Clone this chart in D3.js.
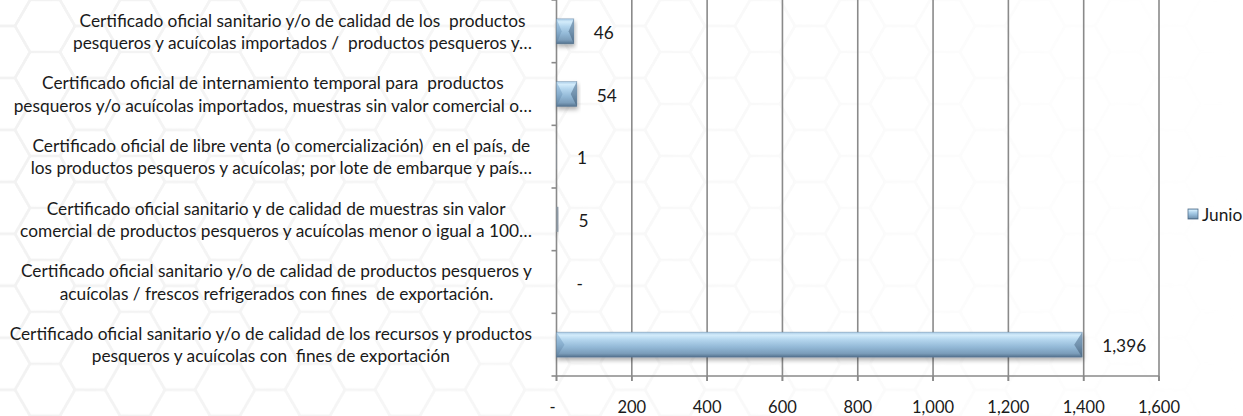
<!DOCTYPE html>
<html>
<head>
<meta charset="utf-8">
<script src="https://cdn.jsdelivr.net/npm/d3@7"></script>
<style>
  html, body { margin: 0; padding: 0; background: #ffffff; }
  svg { display: block; }
  text { font-family: Lato, "Noto Sans", sans-serif; fill: #1a1a1a; }
</style>
</head>
<body>
<svg id="chart" width="1243" height="416"></svg>
<script>
// ---- data ----
const categories = [
  ["Certificado oficial sanitario y/o de calidad de los  productos", "pesqueros y acuícolas importados /  productos pesqueros y…"],
  ["Certificado oficial de internamiento temporal para  productos", "pesqueros y/o acuícolas importados, muestras sin valor comercial o…"],
  ["Certificado oficial de libre venta (o comercialización)  en el país, de", "los productos pesqueros y acuícolas; por lote de embarque y país…"],
  ["Certificado oficial sanitario y de calidad de muestras sin valor", "comercial de productos pesqueros y acuícolas menor o igual a 100…"],
  ["Certificado oficial sanitario y/o de calidad de productos pesqueros y", "acuícolas / frescos refrigerados con fines  de exportación."],
  ["Certificado oficial sanitario y/o de calidad de los recursos y productos", "pesqueros y acuícolas con  fines de exportación"]
];
const values = [46, 54, 1, 5, 0, 1396];
const xTicks = [0, 200, 400, 600, 800, 1000, 1200, 1400, 1600];
const seriesName = "Junio";

// ---- layout ----
const W = 1243, H = 416;
const plot = { left: 556.5, right: 1159, top: 0, bottom: 376 };
const fontSize = 17.3;

const svg = d3.select("#chart");
const defs = svg.append("defs");

// hexagon background pattern (very faint)
const hr = 30, hw = hr * 3, hh = Math.sqrt(3) * hr;
const pat = defs.append("pattern").attr("id", "hex").attr("patternUnits", "userSpaceOnUse")
  .attr("width", hw).attr("height", hh);
function hexPath(cx, cy) {
  const pts = d3.range(6).map(i => [cx + hr * Math.cos(Math.PI / 3 * i), cy + hr * Math.sin(Math.PI / 3 * i)]);
  return "M" + pts.map(p => p.join(",")).join("L") + "Z";
}
[[0, 0], [hw, 0], [0, hh], [hw, hh], [hw / 2, hh / 2]].forEach(([cx, cy]) => {
  pat.append("path").attr("d", hexPath(cx, cy)).attr("fill", "none").attr("stroke", "#f2f2f2").attr("stroke-width", 2.5);
});
const fade = defs.append("linearGradient").attr("id", "fade").attr("x1", 0).attr("x2", 1).attr("y1", 0).attr("y2", 0);
fade.append("stop").attr("offset", 0).attr("stop-color", "#fff").attr("stop-opacity", 1);
fade.append("stop").attr("offset", 0.45).attr("stop-color", "#fff").attr("stop-opacity", 0.6);
fade.append("stop").attr("offset", 1).attr("stop-color", "#fff").attr("stop-opacity", 0);
const mask = defs.append("mask").attr("id", "fadeMask");
mask.append("rect").attr("width", W).attr("height", H).attr("fill", "url(#fade)");
svg.append("rect").attr("width", W).attr("height", H).attr("fill", "url(#hex)").attr("mask", "url(#fadeMask)");

// bar gradients
const g1 = defs.append("linearGradient").attr("id", "barGrad").attr("x1", 0).attr("x2", 0).attr("y1", 0).attr("y2", 1);
[[0, "#a9cbe6"], [0.12, "#d3ecfb"], [0.3, "#b4d6ee"], [0.6, "#92b8d6"], [0.85, "#7b9dba"], [1, "#52708c"]]
  .forEach(([o, c]) => g1.append("stop").attr("offset", o).attr("stop-color", c));
const g2 = defs.append("linearGradient").attr("id", "leftFace").attr("x1", 0).attr("x2", 0).attr("y1", 0).attr("y2", 1);
[[0, "#9cc2e0"], [0.5, "#80a7c8"], [1, "#5c7c99"]].forEach(([o, c]) => g2.append("stop").attr("offset", o).attr("stop-color", c));
const g3 = defs.append("linearGradient").attr("id", "rightFace").attr("x1", 0).attr("x2", 0).attr("y1", 0).attr("y2", 1);
[[0, "#7c9cb8"], [0.5, "#6a8aa6"], [1, "#4a6680"]].forEach(([o, c]) => g3.append("stop").attr("offset", o).attr("stop-color", c));

const shadow = defs.append("filter").attr("id", "shadow").attr("x", "-20%").attr("y", "-30%").attr("width", "140%").attr("height", "180%");
shadow.append("feDropShadow").attr("dx", 1).attr("dy", 3).attr("stdDeviation", 2.2)
  .attr("flood-color", "#000").attr("flood-opacity", 0.3);

// scales
const x = d3.scaleLinear().domain([0, 1600]).range([plot.left, plot.right]);
const y = d3.scaleBand().domain(d3.range(categories.length)).range([plot.top, plot.bottom]).paddingInner(0.6).paddingOuter(0.3);
const yBand = d3.scaleBand().domain(d3.range(categories.length)).range([plot.top, plot.bottom]);

// gridlines
svg.append("g").selectAll("line").data(xTicks.filter(t => t > 0)).join("line")
  .attr("x1", d => x(d)).attr("x2", d => x(d))
  .attr("y1", plot.top).attr("y2", plot.bottom + 5)
  .attr("stroke", "#8a8a8a").attr("stroke-width", 1.6);

// x axis
const xAxisG = svg.append("g").attr("transform", `translate(0,${plot.bottom})`);
xAxisG.append("line").attr("x1", plot.left).attr("x2", plot.right).attr("stroke", "#8a8a8a").attr("stroke-width", 1.6);
xAxisG.selectAll("line.tick").data(xTicks).join("line").attr("class", "tick")
  .attr("x1", d => x(d)).attr("x2", d => x(d)).attr("y1", 0).attr("y2", 5)
  .attr("stroke", "#8a8a8a").attr("stroke-width", 1.6);
xAxisG.selectAll("text").data(xTicks).join("text")
  .attr("x", d => d === 0 ? x(d) - 4 : x(d))
  .attr("y", 30.5).attr("dominant-baseline", "central").attr("text-anchor", "middle")
  .attr("font-size", 16.5)
  .text(d => d === 0 ? "-" : d3.format(",")(d));

// y axis
const yAxisG = svg.append("g");
yAxisG.append("line").attr("x1", plot.left).attr("x2", plot.left).attr("y1", plot.top).attr("y2", plot.bottom + 5)
  .attr("stroke", "#8a8a8a").attr("stroke-width", 1.6);
const yTickPos = d3.range(categories.length + 1).map(i => i === categories.length ? plot.bottom : yBand(i));
yAxisG.selectAll("line.tick").data(yTickPos).join("line").attr("class", "tick")
  .attr("x1", plot.left - 5).attr("x2", plot.left).attr("y1", d => d).attr("y2", d => d)
  .attr("stroke", "#8a8a8a").attr("stroke-width", 1.6);

// category labels (block right-aligned, lines centered in block)
const labelRight = 532, lineGap = 22.6;
categories.forEach((lines, i) => {
  const cy = yBand(i) + yBand.bandwidth() / 2;
  const g = svg.append("g");
  const texts = lines.map((ln, j) => g.append("text")
    .attr("font-size", fontSize).attr("text-anchor", "middle")
    .attr("dominant-baseline", "central").style("white-space", "pre")
    .attr("y", cy + (j - (lines.length - 1) / 2) * lineGap).text(ln));
  const maxW = d3.max(texts, t => t.node().getComputedTextLength());
  texts.forEach(t => t.attr("x", labelRight - maxW / 2));
});

// bars
const barsG = svg.append("g");
values.forEach((v, i) => {
  const x0 = x(0), x1 = x(v), y0 = y(i), h = y.bandwidth(), y1 = y0 + h;
  const w = x1 - x0;
  if (w <= 0) return;
  const g = barsG.append("g").attr("filter", "url(#shadow)");
  g.append("rect").attr("x", x0).attr("y", y0).attr("width", w).attr("height", h)
    .attr("fill", w < 3 ? "#8d9aa6" : "url(#barGrad)");
  if (w >= 3) {
    const b = Math.min(8, w * 0.3);
    g.append("path").attr("d", `M${x0},${y0}L${x0 + b},${y0 + h / 2}L${x0},${y1}Z`).attr("fill", "url(#leftFace)").attr("opacity", 0.75);
    g.append("path").attr("d", `M${x1},${y0}L${x1 - b},${y0 + h / 2}L${x1},${y1}Z`).attr("fill", "url(#rightFace)").attr("opacity", 0.85);
    g.append("rect").attr("x", x0).attr("y", y0).attr("width", w).attr("height", h)
      .attr("fill", "none").attr("stroke", "#4f6d89").attr("stroke-width", 0.6).attr("stroke-opacity", 0.5);
  }
});

// data labels
svg.append("g").selectAll("text").data(values).join("text")
  .attr("x", d => x(d) + 20).attr("y", (d, i) => yBand(i) + yBand.bandwidth() / 2 + 1)
  .attr("dominant-baseline", "central").attr("font-size", fontSize)
  .text(d => d === 0 ? "-" : d3.format(",")(d));

// legend
const lg = svg.append("g");
lg.append("rect").attr("x", 1188).attr("y", 209).attr("width", 10).attr("height", 10)
  .attr("fill", "url(#barGrad)").attr("stroke", "#4f6d89").attr("stroke-width", 0.8);
lg.append("text").attr("x", 1202).attr("y", 214.5).attr("dominant-baseline", "central")
  .attr("font-size", fontSize).text(seriesName);
</script>
</body>
</html>
